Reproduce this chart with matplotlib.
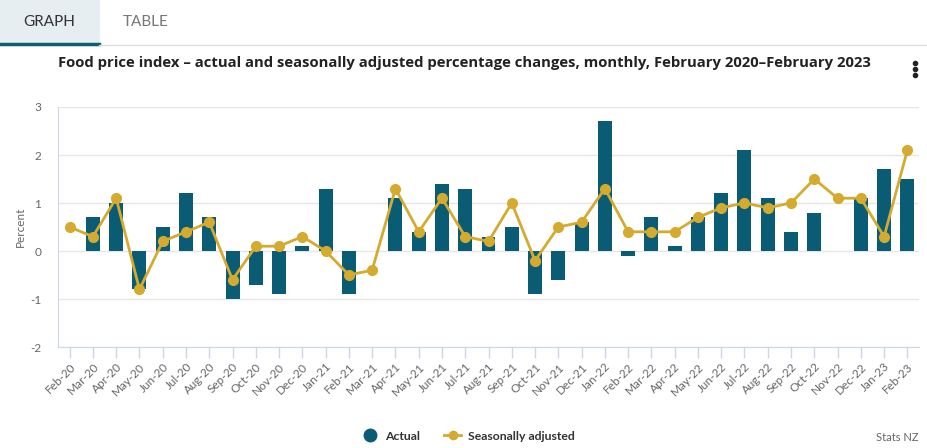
import matplotlib
matplotlib.use("Agg")
import matplotlib.pyplot as plt
from matplotlib.patches import Rectangle
from matplotlib.lines import Line2D
import numpy as np

plt.rcParams['font.family'] = ['Lato', 'DejaVu Sans']
plt.rcParams['axes.unicode_minus'] = False

months = ["Feb-20", "Mar-20", "Apr-20", "May-20", "Jun-20", "Jul-20", "Aug-20", "Sep-20",
          "Oct-20", "Nov-20", "Dec-20", "Jan-21", "Feb-21", "Mar-21", "Apr-21", "May-21",
          "Jun-21", "Jul-21", "Aug-21", "Sep-21", "Oct-21", "Nov-21", "Dec-21", "Jan-22",
          "Feb-22", "Mar-22", "Apr-22", "May-22", "Jun-22", "Jul-22", "Aug-22", "Sep-22",
          "Oct-22", "Nov-22", "Dec-22", "Jan-23", "Feb-23"]
actual = [0.0, 0.7, 1.0, -0.8, 0.5, 1.2, 0.7, -1.0,
          -0.7, -0.9, 0.1, 1.3, -0.9, 0.0, 1.1, 0.4,
          1.4, 1.3, 0.3, 0.5, -0.9, -0.6, 0.6, 2.7,
          -0.1, 0.7, 0.1, 0.7, 1.2, 2.1, 1.1, 0.4,
          0.8, 0.0, 1.1, 1.7, 1.5]
seasonal = [0.5, 0.3, 1.1, -0.8, 0.2, 0.4, 0.6, -0.6,
            0.1, 0.1, 0.3, 0.0, -0.5, -0.4, 1.3, 0.4,
            1.1, 0.3, 0.2, 1.0, -0.2, 0.5, 0.6, 1.3,
            0.4, 0.4, 0.4, 0.7, 0.9, 1.0, 0.9, 1.0,
            1.5, 1.1, 1.1, 0.3, 2.1]
yticks = [-2, -1, 0, 1, 2, 3]

TEAL = '#0a5c75'
GOLD = '#d4ab2f'
AXC = '#ccd6eb'
LBL = '#666666'

W, H = 928, 448
fig = plt.figure(figsize=(W / 100, H / 100), dpi=100)
ax = fig.add_axes([58 / W, 1 - 347 / H, (919 - 58) / W, (347 - 107) / H])

x = np.arange(len(months))
ax.bar(x, actual, width=0.6, color=TEAL, zorder=2)
ax.plot(x, seasonal, color=GOLD, lw=2, marker='o', ms=7, zorder=3)

ax.set_xlim(-0.5, len(months) - 0.5)
ax.set_ylim(-2, 3)
ax.set_yticks(yticks)
ax.set_yticklabels([str(v) for v in yticks])
ax.set_xticks(x)
ax.set_xticklabels(months, rotation=45, ha='right', rotation_mode='anchor')
ax.grid(axis='y', color='#e6e6e6', lw=1, zorder=0)
ax.set_axisbelow(True)
for s in ['top', 'right']:
    ax.spines[s].set_visible(False)
ax.spines['left'].set_color(AXC)
ax.spines['bottom'].set_color(AXC)
ax.tick_params(axis='x', colors=AXC, length=8, width=1, labelcolor=LBL, labelsize=8.5, pad=2)
ax.tick_params(axis='y', length=0, labelcolor=LBL, labelsize=8.5, pad=12)
ax.set_ylabel('Percent', color=LBL, fontsize=8.5, labelpad=3)

# Tabs
fig.patches.append(Rectangle((0, 1 - 44 / H), 99 / W, 44 / H, transform=fig.transFigure,
                             color='#e6eef1', zorder=0))
fig.add_artist(Line2D([0, 99 / W], [1 - 44.5 / H] * 2, transform=fig.transFigure, color='#0f5c73', lw=2.5))
fig.add_artist(Line2D([99 / W, 1], [1 - 45 / H] * 2, transform=fig.transFigure, color='#dddddd', lw=1))
fig.text(49 / W, 1 - 22 / H, 'GRAPH', ha='center', va='center', fontsize=11, color='#333333')
fig.text(146 / W, 1 - 22 / H, 'TABLE', ha='center', va='center', fontsize=11, color='#777777')

# Title
fig.text(58 / W, 1 - 63 / H,
         'Food price index \u2013 actual and seasonally adjusted percentage changes, monthly, February 2020\u2013February 2023',
         ha='left', va='center', fontsize=10.7, fontweight='bold', color='#222222',
         family=['Open Sans', 'DejaVu Sans'])
for dy in [63, 69, 75]:
    fig.add_artist(Line2D([915 / W], [1 - dy / H], transform=fig.transFigure, marker='o',
                          ms=3, color='#222222', ls='none'))

# Legend
handles = [Line2D([], [], marker='o', ls='none', color=TEAL, ms=9),
           Line2D([], [], marker='o', color=GOLD, lw=2, ms=6)]
leg = fig.legend(handles, ['Actual', 'Seasonally adjusted'], loc='center',
                 bbox_to_anchor=(468 / W, 1 - 436 / H), ncol=2, frameon=False,
                 prop={'weight': 'bold', 'size': 8.8}, handlelength=1.4, columnspacing=2,
                 handletextpad=0.5)
for t in leg.get_texts():
    t.set_color('#333333')

fig.text(919 / W, 1 - 437 / H, 'Stats NZ', ha='right', va='center', fontsize=8, color='#666666')

fig.savefig('out.png', dpi=100)
